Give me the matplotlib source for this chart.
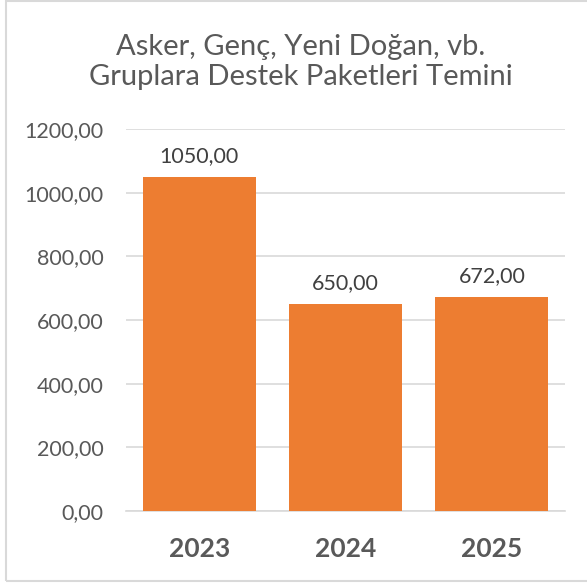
import matplotlib.pyplot as plt
from matplotlib.patches import Rectangle

plt.switch_backend("agg")

years = ["2023", "2024", "2025"]
values = [1050.0, 650.0, 672.0]
yticks = [0, 200, 400, 600, 800, 1000, 1200]

BAR_COLOR = "#ED7D31"
TEXT_COLOR = "#595959"
GRID_COLOR = "#D9D9D9"


def fmt(v):
    return "{:.2f}".format(v).replace(".", ",")


plt.rcParams["font.family"] = ["Lato", "DejaVu Sans"]

W, H = 587, 583
fig = plt.figure(figsize=(W / 100, H / 100), dpi=100)
ax = fig.add_axes([126 / W, (H - 511) / H, (565 - 126) / W, (511 - 129) / H])

x = range(len(years))
bars = ax.bar(x, values, width=0.77, color=BAR_COLOR, zorder=3)
for b, v in zip(bars, values):
    ax.text(b.get_x() + b.get_width() / 2, v + 34, fmt(v), ha="center", va="bottom",
            fontsize=15.5, color="#404040")

ax.set_xlim(-0.5, 2.5)
ax.set_ylim(0, 1200)
ax.set_yticks(yticks)
ax.set_yticklabels([fmt(t) for t in yticks], fontsize=15.5, color=TEXT_COLOR)
ax.set_xticks(list(x))
ax.set_xticklabels(years, fontsize=19, fontweight="bold", color=TEXT_COLOR)
ax.tick_params(axis="y", length=0, pad=16)
ax.tick_params(axis="x", length=0, pad=19)
ax.grid(axis="y", color=GRID_COLOR, linewidth=1.2, zorder=0)
for s in ["top", "right", "left"]:
    ax.spines[s].set_visible(False)
ax.spines["bottom"].set_color(GRID_COLOR)
ax.spines["bottom"].set_linewidth(1.2)

fig.text(301 / W, 1 - 62 / H, "Asker, Genç, Yeni Doğan, vb.\nGruplara Destek Paketleri Temini",
         ha="center", va="center", fontsize=21, color=TEXT_COLOR, linespacing=1.2)

fig.patches.append(Rectangle((6 / W, 2 / H), (W + 10) / W, (H - 3) / H,
                             transform=fig.transFigure, fill=False,
                             edgecolor=GRID_COLOR, linewidth=1.5))

fig.savefig("out.png", dpi=100)
